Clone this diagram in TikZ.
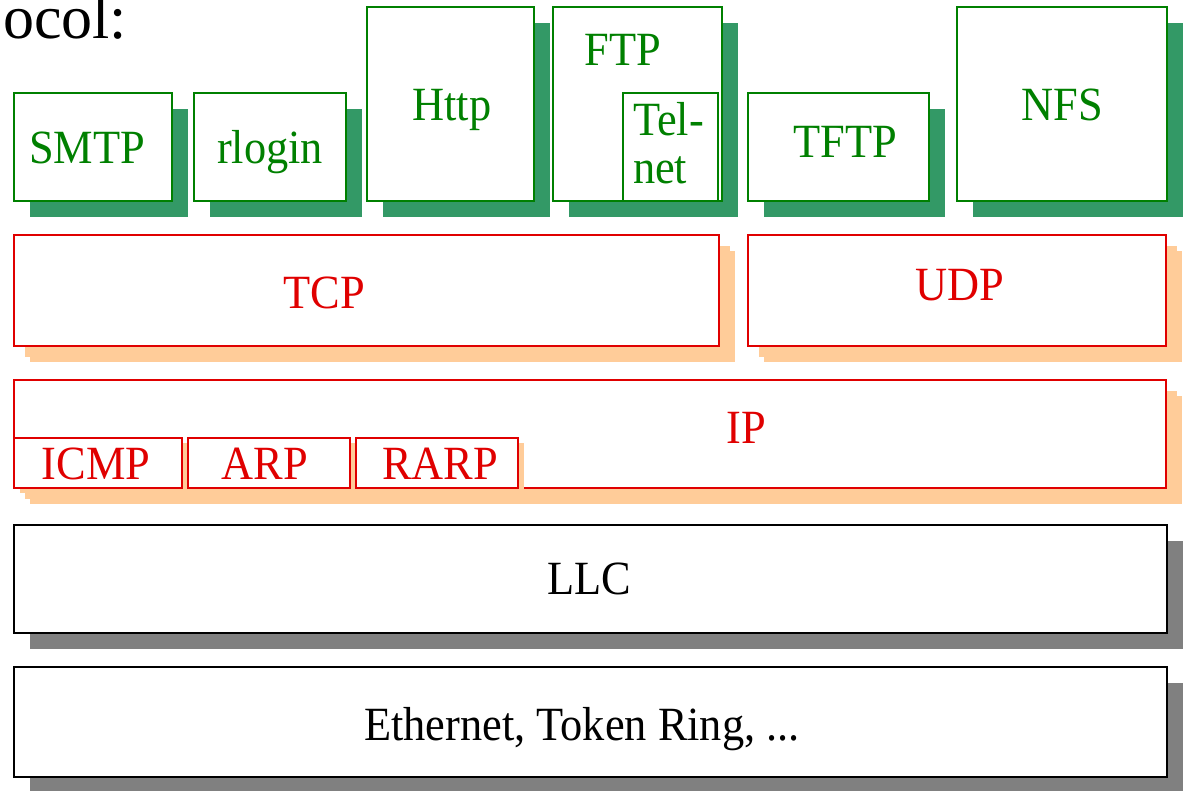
\documentclass[tikz,border=0pt]{standalone}
\usepackage{fontspec}
\setmainfont{Liberation Serif}[FakeStretch=0.93]
\newfontfamily\headfont{Liberation Serif}
\usetikzlibrary{shadows}

\definecolor{appline}{HTML}{008000}
\definecolor{appshade}{HTML}{339966}
\definecolor{netline}{HTML}{E00000}
\definecolor{netshade}{HTML}{FFCC99}
\definecolor{linkshade}{HTML}{808080}

\begin{document}
\begin{tikzpicture}[x=1pt,y=-1pt,
  every node/.style={inner sep=0pt, outer sep=0pt},
  txt/.style={font=\fontsize{47.7}{52}\selectfont, anchor=base},
  layerbox/.style={rectangle, anchor=north west, fill=white},
  appbox/.style={layerbox, draw=appline, line width=2pt,
    general shadow={fill=appshade, shadow xshift=16pt, shadow yshift=-16pt}},
  appplain/.style={layerbox, draw=appline, line width=2pt},
  netbox/.style={layerbox, draw=netline, line width=2.4pt,
    general shadow={fill=netshade, shadow xshift=11pt, shadow yshift=-11pt},
    general shadow={fill=netshade, shadow xshift=16pt, shadow yshift=-16pt}},
  subbox/.style={layerbox, draw=netline, line width=2.4pt,
    general shadow={fill=netshade, shadow xshift=6pt, shadow yshift=-5pt}},
  linkbox/.style={layerbox, draw=black, line width=2.8pt,
    general shadow={fill=linkshade, shadow xshift=16pt, shadow yshift=-16pt}},
  apptxt/.style={txt, text=appline},
  nettxt/.style={txt, text=netline},
  linktxt/.style={txt, text=black},
]
\useasboundingbox (0,0) rectangle (1186,790);

% heading fragment
\node[anchor=base east, font=\headfont\fontsize{62}{66}\selectfont] (head) at (127,38) {ocol:};

% application layer
\node[appbox, minimum width=158, minimum height=108] (smtp)   at (14,93)  {};
\node[appbox, minimum width=152, minimum height=108] (rlogin) at (194,93) {};
\node[appbox, minimum width=167, minimum height=194] (http)   at (367,7)  {};
\node[appbox, minimum width=169, minimum height=194] (ftp)    at (553,7)  {};
\node[appplain, minimum width=95, minimum height=108] (telnet) at (623,93) {};
\node[appbox, minimum width=181, minimum height=108] (tftp)   at (748,93) {};
\node[appbox, minimum width=210, minimum height=194] (nfs)    at (957,7)  {};

\node[apptxt] (smtpT)   at (87,163)  {SMTP};
\node[apptxt] (rloginT) at (270,163) {rlogin};
\node[apptxt] (httpT)   at (452,120) {Http};
\node[apptxt] (ftpT)    at (623,65)  {FTP};
\node[apptxt, anchor=base west] (telnetA) at (633,135) {Tel-};
\node[apptxt, anchor=base west] (telnetB) at (633,183) {net};
\node[apptxt] (tftpT)   at (845,157) {TFTP};
\node[apptxt] (nfsT)    at (1062,120) {NFS};

% transport layer
\node[netbox, minimum width=705, minimum height=111] (tcp) at (14,235)  {};
\node[netbox, minimum width=418, minimum height=111] (udp) at (748,235) {};
\node[nettxt] (tcpT) at (324,308) {TCP};
\node[nettxt] (udpT) at (960,300) {UDP};

% internet layer
\node[netbox, minimum width=1152, minimum height=108] (ip) at (14,380) {};
\node[subbox, minimum width=168, minimum height=50] (icmp) at (14,438)  {};
\node[subbox, minimum width=162, minimum height=50] (arp)  at (188,438) {};
\node[subbox, minimum width=162, minimum height=50] (rarp) at (356,438) {};
\node[nettxt] (ipT)   at (746,443) {IP};
\node[nettxt] (icmpT) at (96,479)  {ICMP};
\node[nettxt] (arpT)  at (265,479) {ARP};
\node[nettxt] (rarpT) at (440,479) {RARP};

% link layer
\node[linkbox, minimum width=1153, minimum height=108] (llc) at (14,525) {};
\node[linkbox, minimum width=1153, minimum height=110] (eth) at (14,667) {};
\node[linktxt] (llcT) at (589,594) {LLC};
\node[linktxt] (ethT) at (582,740) {Ethernet, Token Ring, ...};
\end{tikzpicture}
\end{document}
